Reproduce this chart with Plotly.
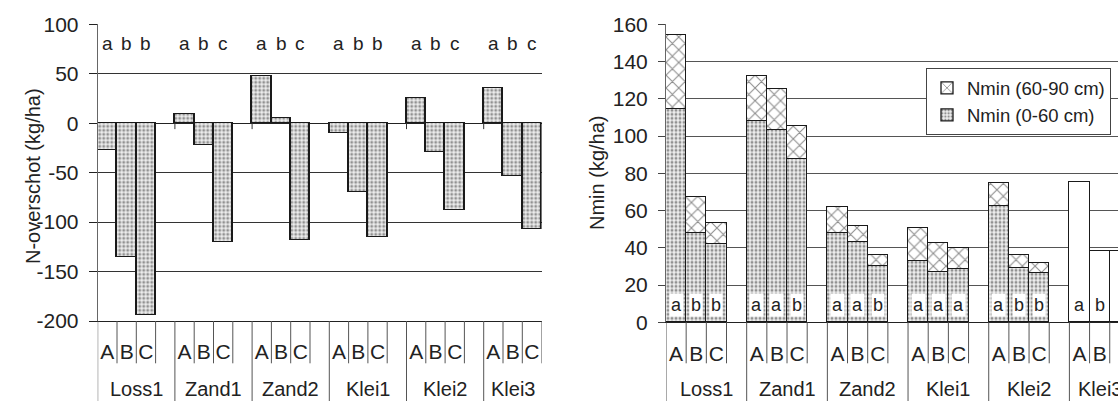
import plotly.graph_objects as go

groups = ["Loss1", "Zand1", "Zand2", "Klei1", "Klei2", "Klei3"]
treatments = ["A", "B", "C"]

# Left panel: N-overschot (kg/ha)
overschot_A = [-27, 9, 47, -10, 25, 35]
overschot_B = [-136, -22, 5, -70, -29, -54]
overschot_C = [-194, -120, -118, -115, -88, -107]
letters_left = [["a", "b", "b"], ["a", "b", "c"], ["a", "b", "c"],
                ["a", "b", "b"], ["a", "b", "c"], ["a", "b", "c"]]

# Right panel: Nmin (kg/ha)
nmin_0_60_A = [114.5, 108, 48, 33, 62.5, None]
nmin_0_60_B = [48, 103, 43, 27, 29, None]
nmin_0_60_C = [42, 87.5, 30, 28.5, 26.5, None]
nmin_total_A = [154, 132, 62, 50.5, 74.5, 75]
nmin_total_B = [67, 125, 51.5, 42.5, 36, 38]
nmin_total_C = [53, 105, 36, 40, 31.5, 38]
letters_right = [["a", "b", "b"], ["a", "a", "b"], ["a", "a", "b"],
                 ["a", "a", "a"], ["a", "b", "b"], ["a", "b", "b"]]

W, H = 1118, 401
FONT = "Liberation Sans, Arial, sans-serif"
TXT = "#222222"

def px_x(p):
    return p / W

def px_y(p):
    return 1 - p / H

pos, ov, low, up, tot_white, lab_l, lab_r, tick_txt = [], [], [], [], [], [], [], []
for g in range(len(groups)):
    for k, t in enumerate(treatments):
        x = 4 * g + k
        pos.append(x)
        tick_txt.append(t)
        ov.append([overschot_A, overschot_B, overschot_C][k][g])
        lo = [nmin_0_60_A, nmin_0_60_B, nmin_0_60_C][k][g]
        tt = [nmin_total_A, nmin_total_B, nmin_total_C][k][g]
        if lo is None:
            low.append(None)
            up.append(None)
            tot_white.append(tt)
        else:
            low.append(lo)
            up.append(tt - lo)
            tot_white.append(None)
        lab_l.append(letters_left[g][k])
        lab_r.append(letters_right[g][k])

dot_marker = dict(color="#e4e4e4", line=dict(color="#1a1a1a", width=1.3),
                  pattern=dict(shape=".", fgcolor="#333333", bgcolor="#eeeeee",
                               size=4, solidity=0.45))
cross_marker = dict(color="white", line=dict(color="#1a1a1a", width=1.3),
                    pattern=dict(shape="x", fgcolor="#1a1a1a", bgcolor="white",
                                 size=9, solidity=0.22))

fig = go.Figure()
fig.add_trace(go.Bar(x=pos, y=ov, width=1, marker=dot_marker, showlegend=False,
                     xaxis="x", yaxis="y"))
fig.add_trace(go.Bar(x=pos, y=low, width=1, marker=dot_marker, name="Nmin (0-60 cm)",
                     xaxis="x2", yaxis="y2"))
fig.add_trace(go.Bar(x=pos, y=up, width=1, marker=cross_marker, name="Nmin (60-90 cm)",
                     xaxis="x2", yaxis="y2"))
fig.add_trace(go.Bar(x=pos, y=tot_white, width=1, showlegend=False,
                     marker=dict(color="white", line=dict(color="#1a1a1a", width=1.3)),
                     xaxis="x2", yaxis="y2"))

L_x0, L_x1 = 97.7, 541.6
L_y0, L_y1 = 321.0, 24.3
slotR = 20.17
R_x0 = 666.0
R_xmax = -0.5 + (W - R_x0) / slotR
R_y0, R_y1 = 322.3, 24.3

tickfont = dict(family=FONT, size=21, color=TXT)

fig.update_layout(
    width=W, height=H, margin=dict(l=0, r=0, t=0, b=0, autoexpand=False),
    paper_bgcolor="white", plot_bgcolor="white", barmode="stack", bargap=0,
    font=dict(family=FONT, color=TXT),
    xaxis=dict(domain=[px_x(L_x0), px_x(L_x1)], range=[-0.5, 22.5], anchor="y",
               tickvals=pos, ticktext=tick_txt, ticks="", showgrid=False,
               zeroline=False, showline=True, linecolor="#222", linewidth=1,
               tickfont=tickfont, ticklabelstandoff=12, automargin=False),
    yaxis=dict(domain=[px_y(L_y0), px_y(L_y1)], range=[-200, 100], anchor="x",
               tickvals=[-200, -150, -100, -50, 0, 50, 100],
               ticktext=["-200", "-150", "-100", "-50", "0", "50", "100"],
               ticks="outside", ticklen=8, tickcolor="#222",
               showgrid=True, gridcolor="#333", gridwidth=1,
               zeroline=True, zerolinecolor="#222", zerolinewidth=1,
               showline=True, linecolor="#666", linewidth=1,
               tickfont=tickfont, ticklabelstandoff=6, automargin=False),
    xaxis2=dict(domain=[px_x(R_x0), 1], range=[-0.5, R_xmax], anchor="y2",
                tickvals=pos, ticktext=tick_txt, ticks="", showgrid=False,
                zeroline=False, showline=True, linecolor="#222", linewidth=1,
                tickfont=tickfont, ticklabelstandoff=12, automargin=False),
    yaxis2=dict(domain=[px_y(R_y0), px_y(R_y1)], range=[0, 160], anchor="x2",
                tickvals=list(range(0, 161, 20)),
                ticks="outside", ticklen=7, tickcolor="#444",
                showgrid=True, gridcolor="#555", gridwidth=1,
                zeroline=False, showline=True, linecolor="#666", linewidth=1,
                tickfont=tickfont, ticklabelstandoff=6, automargin=False),
    legend=dict(x=px_x(926), y=px_y(68.3), xanchor="left", yanchor="top",
                bgcolor="white", bordercolor="#444", borderwidth=1,
                traceorder="reversed", font=dict(family=FONT, size=18.5, color=TXT)),
)

shapes = []
annotations = []
for xa, ya_bottom_axis in (("x", L_y0), ("x2", R_y0)):
    y_axis_p = px_y(ya_bottom_axis)
    y_short = px_y(363.3)
    for g in range(len(groups)):
        shapes.append(dict(type="line", xref=xa, yref="paper", x0=4 * g - 0.5, x1=4 * g - 0.5,
                           y0=y_axis_p, y1=0, line=dict(color="#555", width=1)))
        for k in range(3):
            xb = 4 * g + k + 0.5
            shapes.append(dict(type="line", xref=xa, yref="paper", x0=xb, x1=xb,
                               y0=y_axis_p, y1=y_short, line=dict(color="#555", width=1)))
        n_slots = 4 if g < len(groups) - 1 else 3
        annotations.append(dict(xref=xa, yref="paper", x=4 * g - 0.5 + n_slots / 2,
                                y=px_y(388.5), text=groups[g], showarrow=False,
                                xanchor="center", yanchor="middle",
                                font=dict(family=FONT, size=20, color=TXT)))
for g in range(1, len(groups)):
    shapes.append(dict(type="line", xref="x", yref="y", x0=4 * g - 0.5, x1=4 * g - 0.5,
                       y0=0, y1=-6, line=dict(color="#333", width=1)))

for x, t in zip(pos, lab_l):
    annotations.append(dict(xref="x", yref="y", x=x, y=80.5, text=t, showarrow=False,
                            font=dict(family=FONT, size=19, color=TXT)))
for x, t in zip(pos, lab_r):
    annotations.append(dict(xref="x2", yref="y2", x=x, y=9.3, text=t, showarrow=False,
                            bgcolor="white", borderpad=1,
                            font=dict(family=FONT, size=18, color=TXT)))

annotations.append(dict(xref="paper", yref="paper", x=px_x(20), y=px_y(176),
                        text="N-overschot (kg/ha)", textangle=-90, showarrow=False,
                        font=dict(family=FONT, size=20, color=TXT)))
annotations.append(dict(xref="paper", yref="paper", x=px_x(597), y=px_y(173),
                        text="Nmin (kg/ha)", textangle=-90, showarrow=False,
                        font=dict(family=FONT, size=20, color=TXT)))

fig.update_layout(shapes=shapes, annotations=annotations)
fig.write_html("out.html", config={"displayModeBar": False},
               post_script="document.body.style.margin='0';document.body.style.overflow='hidden';")
